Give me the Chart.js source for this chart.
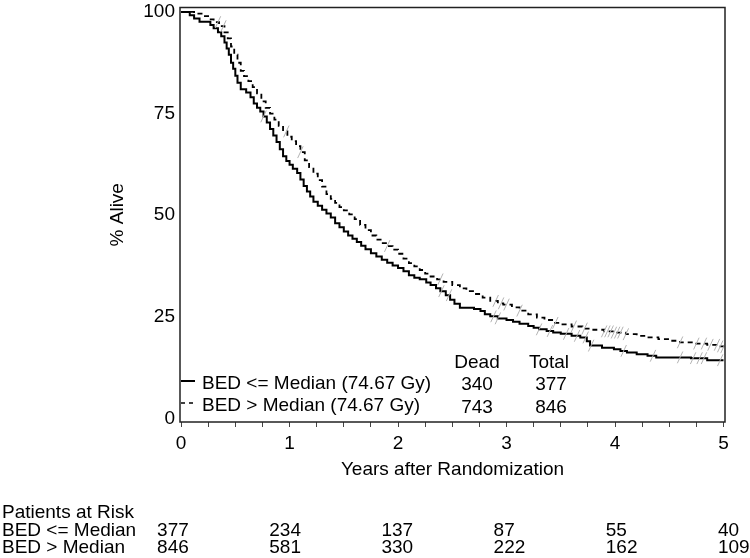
<!DOCTYPE html>
<html>
<head>
<meta charset="utf-8">
<script src="https://cdn.jsdelivr.net/npm/chart.js@4/dist/chart.umd.min.js"></script>
<style>
  html, body { margin: 0; padding: 0; background: #fff; }
  #wrap { width: 750px; height: 558px; position: relative; }
</style>
</head>
<body>
<div id="wrap"><canvas id="km"></canvas></div>
<script>
// BED <= Median (solid)
const lowTimes = [0, 0.08, 0.12, 0.17, 0.27, 0.3, 0.34, 0.37, 0.4, 0.42, 0.44, 0.46, 0.48, 0.5, 0.52, 0.55,
  0.6, 0.64, 0.67, 0.7, 0.73, 0.76, 0.79, 0.82, 0.85, 0.88, 0.91, 0.94, 0.97, 1.0, 1.03, 1.07, 1.1, 1.13,
  1.16, 1.19, 1.22, 1.26, 1.3, 1.34, 1.38, 1.42, 1.46, 1.5, 1.54, 1.58, 1.62, 1.66, 1.7, 1.75, 1.8, 1.85,
  1.9, 1.95, 2.0, 2.05, 2.1, 2.15, 2.2, 2.26, 2.3, 2.35, 2.39, 2.44, 2.48, 2.52, 2.57, 2.7, 2.76, 2.8, 2.85,
  2.92, 3.0, 3.06, 3.12, 3.2, 3.25, 3.3, 3.37, 3.43, 3.5, 3.6, 3.68, 3.74, 3.77, 3.88, 3.99, 4.05, 4.11,
  4.2, 4.3, 4.38, 4.7, 4.85, 5.0];
const lowSurv = [100, 99.2, 98.4, 97.6, 96.8, 96, 95, 94, 92.5, 91, 89.5, 87.5, 86, 84.3, 82.6, 81,
  80.2, 79, 77.5, 76.4, 75.5, 74.3, 72.8, 71.2, 69.6, 68, 66.2, 64.5, 63.3, 62.4, 61.4, 60.4, 58.8, 57.2,
  55.8, 54.6, 53.3, 52.3, 51.3, 50.4, 49.4, 48, 47, 46, 45, 44.2, 43.4, 42.5, 41.6, 40.6, 39.8, 39,
  38.3, 37.6, 37, 36.2, 35.2, 34.6, 34.2, 33.4, 32.8, 32, 31.3, 30.3, 29.2, 28.2, 27.2, 26.9, 26.4, 25.6, 25.1,
  24.6, 24.2, 23.8, 23.3, 22.7, 22.3, 21.9, 21.5, 21.1, 20.8, 20.3, 19.9, 19, 17.9, 17.4, 17, 16.6, 16.2,
  15.8, 15.4, 15, 14.8, 14.3, 14.3];
// BED > Median (dashed)
const highTimes = [0, 0.12, 0.2, 0.26, 0.3, 0.35, 0.4, 0.43, 0.46, 0.49, 0.52, 0.55, 0.58, 0.62, 0.66, 0.7,
  0.74, 0.78, 0.82, 0.86, 0.9, 0.94, 0.98, 1.02, 1.06, 1.1, 1.14, 1.18, 1.22, 1.26, 1.3, 1.34, 1.38, 1.42,
  1.46, 1.5, 1.55, 1.6, 1.65, 1.7, 1.75, 1.8, 1.85, 1.9, 1.95, 2.0, 2.05, 2.1, 2.15, 2.2, 2.25, 2.3, 2.36,
  2.42, 2.5, 2.57, 2.63, 2.7, 2.78, 2.85, 2.92, 2.97, 3.05, 3.12, 3.2, 3.28, 3.35, 3.43, 3.5, 3.6, 3.7, 3.8,
  3.9, 3.99, 4.1, 4.2, 4.3, 4.4, 4.5, 4.6, 4.72, 4.85, 4.95, 5.0];
const highSurv = [100, 99.6, 99, 98.2, 97.5, 96.5, 95, 93.5, 91.5, 89.5, 87.5, 85.5, 84.2, 83, 81.5, 80,
  78, 76.4, 75, 73.5, 72, 70.6, 69.3, 68.2, 67, 65.5, 63.5, 61.8, 60.2, 58.6, 57, 55.2, 54, 53,
  52, 51.2, 50.2, 49, 47.6, 46.3, 45, 44, 43.1, 42.4, 41.5, 40.5, 39.3, 38.2, 37.4, 36.5, 35.6, 34.9, 34.2,
  33.6, 32.8, 32, 31.3, 30.6, 29.7, 28.9, 28.3, 28, 27.3, 26.5, 25.6, 24.8, 24.2, 23.5, 23.1, 22.6, 22.1, 21.8,
  21.4, 21.1, 20.7, 20.3, 19.9, 19.5, 19.1, 18.7, 18.4, 18.1, 17.7, 17.5];

// censored observations (years)
const lowCensor = [0.76, 2.4, 2.47, 2.88, 2.92, 3.3, 3.4, 3.55, 3.65, 3.73, 3.78, 4.08, 4.35, 4.6, 4.72, 4.78, 4.82, 4.97];
const highCensor = [0.34, 0.39, 0.97, 1.1, 1.9, 2.39, 2.9, 2.95, 3.0, 3.12, 3.45, 3.62, 3.72, 3.9, 3.93, 3.96,
  3.99, 4.02, 4.05, 4.1, 4.6, 4.75, 4.82, 4.88, 4.94, 4.97, 5.0];

const groupLabels = ['BED <= Median (74.67 Gy)', 'BED > Median (74.67 Gy)'];
const deadCounts = [340, 743];
const totalCounts = [377, 846];

const riskYears = [0, 1, 2, 3, 4, 5];
const riskLabels = ['BED <= Median', 'BED > Median'];
const atRiskLow = [377, 234, 137, 87, 55, 40];
const atRiskHigh = [846, 581, 330, 222, 162, 109];

const yTicks = [0, 25, 50, 75, 100];
const xMinor = 0.25;

const FONT = '"Liberation Sans", Arial, sans-serif';
Chart.defaults.font.family = FONT;
Chart.defaults.font.size = 19;
Chart.defaults.color = '#000';

function toPoints(times, surv) {
  return times.map((t, i) => ({ x: t, y: surv[i] }));
}

function survAt(times, surv, t) {
  let s = surv[0];
  for (let i = 0; i < times.length; i++) {
    if (times[i] <= t) s = surv[i];
  }
  return s;
}

function censorPoints(cens, times, surv) {
  return cens.map(t => ({ x: t, y: survAt(times, surv, t) }));
}

const extras = {
  id: 'extras',
  afterDraw(chart) {
    const ctx = chart.ctx;
    const a = chart.chartArea;
    const xs = chart.scales.x;
    ctx.save();

    // frame
    ctx.strokeStyle = '#222';
    ctx.lineWidth = 1.5;
    ctx.strokeRect(a.left, a.top, a.right - a.left, a.bottom - a.top);

    // legend inside plot
    ctx.strokeStyle = '#000';
    ctx.lineWidth = 2;
    ctx.beginPath();
    ctx.moveTo(a.left + 1, 381);
    ctx.lineTo(a.left + 15, 381);
    ctx.stroke();
    ctx.lineWidth = 1.5;
    ctx.setLineDash([4, 4]);
    ctx.beginPath();
    ctx.moveTo(a.left + 1, 403);
    ctx.lineTo(a.left + 16, 403);
    ctx.stroke();
    ctx.setLineDash([]);

    ctx.fillStyle = '#000';
    ctx.font = '19px ' + FONT;
    ctx.textAlign = 'left';
    ctx.textBaseline = 'alphabetic';
    ctx.fillText(groupLabels[0], 202, 389);
    ctx.fillText(groupLabels[1], 202, 411);

    ctx.textAlign = 'center';
    ctx.fillText('Dead', 477, 368);
    ctx.fillText('Total', 549, 368);
    ctx.fillText(String(deadCounts[0]), 477, 390);
    ctx.fillText(String(totalCounts[0]), 551, 390);
    ctx.fillText(String(deadCounts[1]), 477, 413);
    ctx.fillText(String(totalCounts[1]), 551, 413);

    // patients at risk table
    ctx.textAlign = 'left';
    ctx.fillText('Patients at Risk', 2, 518);
    ctx.fillText(riskLabels[0], 2, 536);
    ctx.fillText(riskLabels[1], 2, 553);
    riskYears.forEach((yr, i) => {
      const px = xs.getPixelForValue(yr) - 24 + yr * 3.7;
      ctx.fillText(String(atRiskLow[i]), px, 536);
      ctx.fillText(String(atRiskHigh[i]), px, 553);
    });
    ctx.restore();
  }
};

new Chart(document.getElementById('km'), {
  type: 'line',
  data: {
    datasets: [
      {
        type: 'scatter',
        data: censorPoints(lowCensor, lowTimes, lowSurv),
        pointStyle: 'line',
        pointRotation: -65,
        pointRadius: 6.5,
        pointBorderColor: '#b3b3b3',
        pointBorderWidth: 1,
        showLine: false
      },
      {
        type: 'scatter',
        data: censorPoints(highCensor, highTimes, highSurv),
        pointStyle: 'line',
        pointRotation: -65,
        pointRadius: 6.5,
        pointBorderColor: '#b3b3b3',
        pointBorderWidth: 1,
        showLine: false
      },
      {
        label: groupLabels[0],
        data: toPoints(lowTimes, lowSurv),
        stepped: 'before',
        borderColor: '#000',
        borderWidth: 2,
        pointRadius: 0,
        fill: false
      },
      {
        label: groupLabels[1],
        data: toPoints(highTimes, highSurv),
        stepped: 'before',
        borderColor: '#000',
        borderWidth: 1.8,
        borderDash: [5, 4],
        pointRadius: 0,
        fill: false
      }
    ]
  },
  options: {
    responsive: true,
    maintainAspectRatio: false,
    animation: false,
    layout: { padding: { left: 0, right: 25, top: 4, bottom: 76 } },
    plugins: { legend: { display: false }, tooltip: { enabled: false } },
    scales: {
      x: {
        type: 'linear',
        min: -0.01,
        max: 5.014,
        afterBuildTicks: s => {
          const t = [];
          for (let v = 0; v <= 5 + 1e-9; v += xMinor) t.push({ value: Math.round(v * 100) / 100 });
          s.ticks = t;
        },
        afterFit: s => { s.height = 60; s.paddingLeft = 0; s.paddingRight = 0; },
        ticks: {
          autoSkip: false,
          maxRotation: 0,
          padding: 5,
          color: '#000',
          callback: v => Number.isInteger(v) ? String(v) : ''
        },
        grid: { display: true, drawOnChartArea: false, drawTicks: true, tickLength: 5, tickColor: '#444' },
        border: { display: false },
        title: { display: true, text: 'Years after Randomization', color: '#000', padding: { top: 0, bottom: 0.6 } }
      },
      y: {
        type: 'linear',
        min: -0.9,
        max: 101.1,
        afterBuildTicks: s => { s.ticks = yTicks.map(v => ({ value: v })); },
        afterFit: s => { s.width = 180; s.paddingTop = 0; s.paddingBottom = 0; },
        ticks: { padding: 5, color: '#000' },
        grid: { display: false, drawTicks: false },
        border: { display: false },
        title: { display: true, text: '% Alive', color: '#000', padding: { top: 106, bottom: 0 } }
      }
    }
  },
  plugins: [extras]
});
</script>
</body>
</html>
